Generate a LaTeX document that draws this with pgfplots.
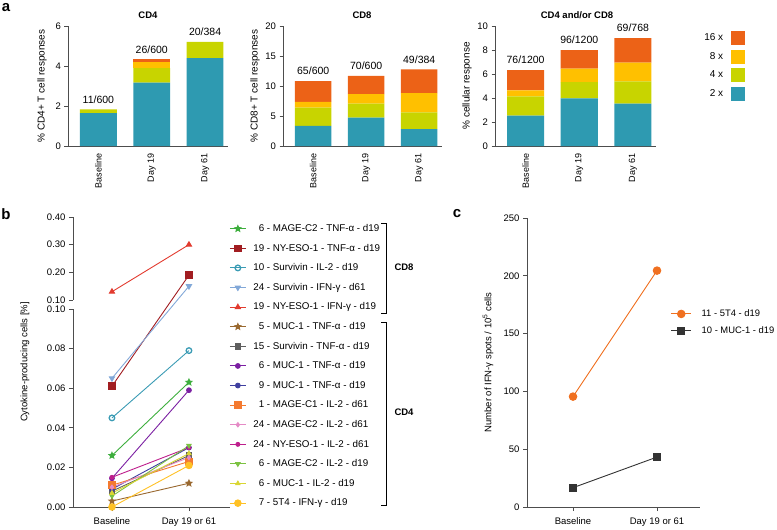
\documentclass[border=0pt]{standalone}
\usepackage{pgfplots}
\pgfplotsset{compat=1.18}
\usepackage{fontspec}
\setmainfont{Liberation Sans}
\definecolor{cA}{HTML}{2E9AB1}
\definecolor{cB}{HTML}{C8D400}
\definecolor{cC}{HTML}{FFC000}
\definecolor{cD}{HTML}{EC6217}
\definecolor{axgray}{HTML}{4D4D4D}
\definecolor{b1}{HTML}{3DAE3D}
\definecolor{b2}{HTML}{A11D21}
\definecolor{b3}{HTML}{3A9BB4}
\definecolor{b4}{HTML}{82A8D8}
\definecolor{b5}{HTML}{E23B2F}
\definecolor{b6}{HTML}{99682F}
\definecolor{b7}{HTML}{5F5F5F}
\definecolor{b8}{HTML}{7B1FA2}
\definecolor{b9}{HTML}{3F3F9F}
\definecolor{b10}{HTML}{F47A30}
\definecolor{b11}{HTML}{E58BC6}
\definecolor{b12}{HTML}{BE1E8C}
\definecolor{b13}{HTML}{7CC242}
\definecolor{b14}{HTML}{D9D633}
\definecolor{b15}{HTML}{FFC125}
\definecolor{corange}{HTML}{F07020}
\definecolor{cdark}{HTML}{333333}
\pgfdeclareplotmark{fstar}{%
  \pgfpathmoveto{\pgfpointpolar{90}{\pgfplotmarksize}}%
  \pgfpathlineto{\pgfpointpolar{126}{0.45\pgfplotmarksize}}%
  \pgfpathlineto{\pgfpointpolar{162}{\pgfplotmarksize}}%
  \pgfpathlineto{\pgfpointpolar{198}{0.45\pgfplotmarksize}}%
  \pgfpathlineto{\pgfpointpolar{234}{\pgfplotmarksize}}%
  \pgfpathlineto{\pgfpointpolar{270}{0.45\pgfplotmarksize}}%
  \pgfpathlineto{\pgfpointpolar{306}{\pgfplotmarksize}}%
  \pgfpathlineto{\pgfpointpolar{342}{0.45\pgfplotmarksize}}%
  \pgfpathlineto{\pgfpointpolar{18}{\pgfplotmarksize}}%
  \pgfpathlineto{\pgfpointpolar{54}{0.45\pgfplotmarksize}}%
  \pgfpathclose\pgfusepathqfillstroke}
\newcommand{\fs}[1]{\fontsize{#1}{#1}\selectfont}
\pgfplotsset{
  panelA/.style={
    scale only axis, width=160pt, height=120pt,
    ybar stacked, bar width=0.69, ymin=0,
    xmin=-0.57, xmax=2.43, clip=false,
    axis lines*=left,
    axis line style={axgray, line width=0.8pt, -},
    xtick={0,1,2}, xticklabels={Baseline,Day 19,Day 61},
    x tick style={draw=none},
    xticklabel style={rotate=90, anchor=east, font=\fs{9}, inner sep=1pt},
    xticklabel shift=3pt,
    y tick style={axgray, line width=0.8pt},
    tick align=outside, major tick length=3.5pt,
    yticklabel style={font=\fs{9.5}},
    /pgf/number format/assume math mode=true,
    every axis y label/.style={rotate=90, anchor=center, font=\fs{10}},
  },
  sw/.style={fill=#1, draw=none, area legend, legend image code/.code={\fill[#1] (0pt,-7pt) rectangle (14pt,7pt);}},
  lineaxis/.style={
    scale only axis, axis x line*=bottom, axis y line*=left,
    separate axis lines,
    x axis line style={axgray, line width=0.8pt, -},
    y axis line style={axgray, line width=0.8pt, -},
    tick style={axgray, line width=0.8pt},
    tick align=outside, major tick length=4pt,
    ticklabel style={font=\fs{9.5}},
    xticklabel shift=3pt,
    /pgf/number format/assume math mode=true,
    every axis y label/.style={rotate=90, anchor=center, font=\fs{9.5}},
    xtick={0,1}, xticklabels={Baseline,Day 19 or 61},
  },
  bl/.style={color=#1, line width=0.9pt, mark options={solid, fill=#1}},
}
\begin{document}
\begin{tikzpicture}[x=1pt,y=1pt]
\useasboundingbox (0,0) rectangle (777,-530);
% ---------------- Panel a: CD4
\begin{axis}[panelA, at={(68pt,-146pt)}, anchor=south west, ymax=6, ytick={0,2,4,6},
  ylabel={\% CD4+ T cell responses},
  ylabel style={at={(axis description cs:-0.1625,0.5)}}]
\addplot[sw=cA] coordinates {(0,1.65) (1,3.17) (2,4.40)};
\addplot[sw=cB] coordinates {(0,0.18) (1,0.73) (2,0.81)};
\addplot[sw=cC] coordinates {(0,0) (1,0.30) (2,0)};
\addplot[sw=cD] coordinates {(0,0) (1,0.13) (2,0)};
\node[anchor=south, font=\fs{10.5}, inner sep=0pt, yshift=6pt] at (axis cs:0,1.83) {11/600};
\node[anchor=south, font=\fs{10.5}, inner sep=0pt, yshift=6pt] at (axis cs:1,4.33) {26/600};
\node[anchor=south, font=\fs{10.5}, inner sep=0pt, yshift=6pt] at (axis cs:2,5.21) {20/384};
\end{axis}
% ---------------- Panel a: CD8
\begin{axis}[panelA, at={(283pt,-146pt)}, anchor=south west, width=159pt, ymax=20, ytick={0,5,10,15,20},
  ylabel={\% CD8+ T cell responses},
  ylabel style={at={(axis description cs:-0.176,0.5)}}]
\addplot[sw=cA] coordinates {(0,3.34) (1,4.74) (2,2.80)};
\addplot[sw=cB] coordinates {(0,3.06) (1,2.33) (2,2.80)};
\addplot[sw=cC] coordinates {(0,0.95) (1,1.56) (2,3.20)};
\addplot[sw=cD] coordinates {(0,3.48) (1,3.04) (2,3.96)};
\node[anchor=south, font=\fs{10.5}, inner sep=0pt, yshift=6pt] at (axis cs:0,10.83) {65/600};
\node[anchor=south, font=\fs{10.5}, inner sep=0pt, yshift=6pt] at (axis cs:1,11.67) {70/600};
\node[anchor=south, font=\fs{10.5}, inner sep=0pt, yshift=6pt] at (axis cs:2,12.76) {49/384};
\end{axis}
% ---------------- Panel a: CD4 and/or CD8
\begin{axis}[panelA, at={(495pt,-146pt)}, anchor=south west, width=161pt, ymax=10, ytick={0,2,4,6,8,10},
  ylabel={\% cellular response},
  ylabel style={at={(axis description cs:-0.174,0.5)}},
  legend style={draw=none, fill=none, at={(axis description cs:1.555,0.96)}, anchor=north east,
    font=\fs{10}, row sep=4.5pt, inner sep=0pt,
    /tikz/every odd column/.append style={column sep=6pt}},
  legend cell align=right, legend plot pos=right, reverse legend]
\addplot[sw=cA] coordinates {(0,2.53) (1,3.97) (2,3.53)};
\addplot[sw=cB] coordinates {(0,1.61) (1,1.36) (2,1.86)};
\addplot[sw=cC] coordinates {(0,0.50) (1,1.11) (2,1.55)};
\addplot[sw=cD] coordinates {(0,1.69) (1,1.56) (2,2.04)};
\legend{2 x,4 x,8 x,16 x}
\node[anchor=south, font=\fs{10.5}, inner sep=0pt, yshift=6pt] at (axis cs:0,6.33) {76/1200};
\node[anchor=south, font=\fs{10.5}, inner sep=0pt, yshift=6pt] at (axis cs:1,8.00) {96/1200};
\node[anchor=south, font=\fs{10.5}, inner sep=0pt, yshift=6pt] at (axis cs:2,8.98) {69/768};
\end{axis}
% ---------------- Panel b
\begin{axis}[lineaxis, at={(73pt,-507pt)}, anchor=south west, width=157pt, height=290pt,
  xmin=-0.506, xmax=1.533, ymin=0, ymax=0.4,
  y coord trafo/.code={\pgfmathparse{#1+(#1>0.1)*(0.0045455-0.860269*(#1-0.1))}},
  ytick={0,0.02,0.04,0.06,0.08,0.1,0.1001,0.2,0.3,0.4},
  yticklabels={0.00,0.02,0.04,0.06,0.08,0.10,0.10,0.20,0.30,0.40},
  y axis line style={draw=none},
  ylabel={Cytokine-producing cells [\%]},
  ylabel style={at={(axis description cs:-0.306,0.5)}},
  legend style={draw=none, fill=none, at={(axis description cs:0.995,0.982)}, anchor=north west,
    font=\fs{9.8}, row sep=7pt, inner sep=0pt,
    /tikz/every odd column/.append style={column sep=5pt}},
  legend cell align=left,
  legend image code/.code={\draw[mark repeat=2,mark phase=2,#1] plot coordinates {(0pt,0pt) (8pt,0pt) (16pt,0pt)};}]
\addplot[bl=b1, mark=fstar, mark size=3.2] coordinates {(0,0.026) (1,0.063)};
\addplot[bl=b2, mark=square*, mark size=3.3] coordinates {(0,0.061) (1,0.19)};
\addplot[bl=b3, mark=o, mark size=2.8, mark options={solid, fill=white, line width=1.3pt}] coordinates {(0,0.045) (1,0.079)};
\addplot[bl=b4, mark=triangle*, mark size=3, mark options={solid, fill=b4, rotate=180}] coordinates {(0,0.065) (1,0.15)};
\addplot[bl=b5, mark=triangle*, mark size=3] coordinates {(0,0.13) (1,0.30)};
\addplot[bl=b6, mark=fstar, mark size=3.2] coordinates {(0,0.003) (1,0.012)};
\addplot[bl=b7, mark=square*, mark size=2.8] coordinates {(0,0.008) (1,0.026)};
\addplot[bl=b8, mark=*, mark size=2.4] coordinates {(0,0.0145) (1,0.059)};
\addplot[bl=b9, mark=*, mark size=2.4] coordinates {(0,0.009) (1,0.030)};
\addplot[bl=b10, mark=square*, mark size=3.3] coordinates {(0,0.011) (1,0.023)};
\addplot[bl=b11, mark=diamond*, mark size=2.2] coordinates {(0,0.010) (1,0.025)};
\addplot[bl=b12, mark=*, mark size=2] coordinates {(0,0.015) (1,0.030)};
\addplot[bl=b13, mark=triangle*, mark size=2.5, mark options={solid, fill=b13, rotate=180}] coordinates {(0,0.0055) (1,0.031)};
\addplot[bl=b14, mark=triangle*, mark size=2.5] coordinates {(0,0.007) (1,0.027)};
\addplot[bl=b15, mark=*, mark size=3.3] coordinates {(0,0.000) (1,0.021)};
\legend{\hphantom{1}6 - MAGE-C2 - TNF-α - d19,
19 - NY-ESO-1 - TNF-α - d19,
10 - Survivin - IL-2 - d19,
24 - Survivin - IFN-γ - d61,
19 - NY-ESO-1 - IFN-γ - d19,
\hphantom{1}5 - MUC-1 - TNF-α - d19,
15 - Survivin - TNF-α - d19,
\hphantom{1}6 - MUC-1 - TNF-α - d19,
\hphantom{1}9 - MUC-1 - TNF-α - d19,
\hphantom{1}1 - MAGE-C1 - IL-2 - d61,
24 - MAGE-C2 - IL-2 - d61,
24 - NY-ESO-1 - IL-2 - d61,
\hphantom{1}6 - MAGE-C2 - IL-2 - d19,
\hphantom{1}6 - MUC-1 - IL-2 - d19,
\hphantom{1}7 - 5T4 - IFN-γ - d19}
\draw[axgray, line width=0.8pt] (axis cs:-0.506,0) -- (axis cs:-0.506,0.1);
\draw[axgray, line width=0.8pt] (axis cs:-0.506,0.1001) -- (axis cs:-0.506,0.4);
\end{axis}
% ---------------- Panel c
\begin{axis}[lineaxis, at={(527pt,-507pt)}, anchor=south west, width=173pt, height=289pt,
  xmin=-0.548, xmax=1.512, ymin=0, ymax=250, ytick={0,50,100,150,200,250},
  ylabel={Number of IFN-γ spots / 10\textsuperscript{5} cells},
  ylabel style={at={(axis description cs:-0.225,0.5)}},
  legend style={draw=none, fill=none, at={(axis description cs:0.83,0.69)}, anchor=north west,
    font=\fs{9.4}, row sep=4.5pt, inner sep=0pt,
    /tikz/every odd column/.append style={column sep=8pt}},
  legend cell align=left,
  legend image code/.code={\draw[mark repeat=2,mark phase=2,#1] plot coordinates {(0pt,0pt) (10pt,0pt) (20pt,0pt)};}]
\addplot[bl=corange, mark=*, mark size=3.8] coordinates {(0,95.5) (1,204.5)};
\addplot[bl=cdark, mark=square*, mark size=3.6] coordinates {(0,16.7) (1,43.2)};
\legend{11 - 5T4 - d19, 10 - MUC-1 - d19}
\end{axis}
% ---------------- annotations
\node[font=\bfseries\fs{15}] at (6,-8) {a};
\node[font=\bfseries\fs{15}] at (6,-214) {b};
\node[font=\bfseries\fs{15}] at (457,-214) {c};
\node[font=\bfseries\fs{9.5}] at (148,-15) {CD4};
\node[font=\bfseries\fs{9.5}] at (362,-15) {CD8};
\node[font=\bfseries\fs{9.5}] at (577,-15) {CD4 and/or CD8};
\draw[black, line width=0.8pt] (381,-223) -- (386,-223) -- (386,-313) -- (381,-313);
\draw[black, line width=0.8pt] (381,-322) -- (386,-322) -- (386,-505) -- (381,-505);
\node[font=\bfseries\fs{9.5}] at (404,-267) {CD8};
\node[font=\bfseries\fs{9.5}] at (404,-412) {CD4};
\end{tikzpicture}
\end{document}
